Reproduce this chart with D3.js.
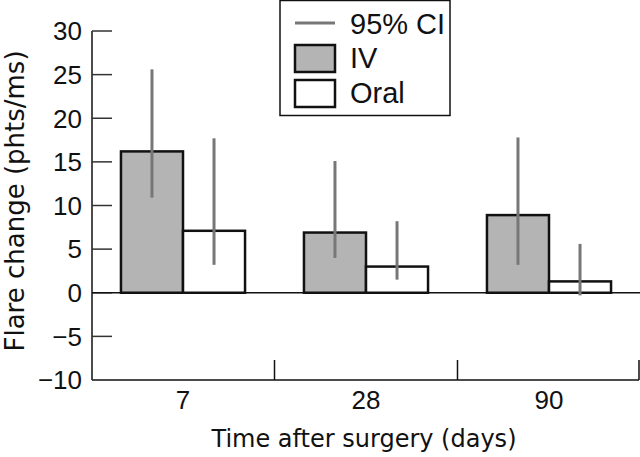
<!DOCTYPE html>
<html><head><meta charset="utf-8">
<script src="https://cdn.jsdelivr.net/npm/d3@7"></script>
<style>body{margin:0;background:#fff}svg{display:block}text{font-family:"Liberation Sans",Arial,sans-serif;fill:#111}.ttl{font-family:"DejaVu Sans",sans-serif}</style>
</head><body><svg id="c" width="640" height="457"></svg>
<script>
const categories = ["7", "28", "90"];
const ivValues = [16.2, 6.9, 8.9];
const ivLow = [10.9, 4.0, 3.2];
const ivHigh = [25.6, 15.1, 17.8];
const oralValues = [7.1, 3.0, 1.3];
const oralLow = [3.2, 1.5, -0.3];
const oralHigh = [17.7, 8.2, 5.6];
const yTicks = [-10, -5, 0, 5, 10, 15, 20, 25, 30];
const seriesNames = ["IV", "Oral"];
const legendLabels = ["95% CI", "IV", "Oral"];

const svg = d3.select("#c");
const y = d3.scaleLinear().domain([-10, 30]).range([380, 31]);
const x = d3.scaleBand().domain(categories).range([91.5, 640.5]);
// the pair of bars occupies the middle of each 183px step
const inner = d3.scaleBand().domain(seriesNames).range([x.step()*0.161, x.step()*(1-0.161)]);

const fills = {IV: "#b4b4b4", Oral: "#ffffff"};
const data = categories.map((c, i) => ({c, vals: [
  {s: "IV", v: ivValues[i], lo: ivLow[i], hi: ivHigh[i]},
  {s: "Oral", v: oralValues[i], lo: oralLow[i], hi: oralHigh[i]}]}));

// y axis
const yAxis = svg.append("g");
yAxis.append("line").attr("x1", 92).attr("x2", 92).attr("y1", y(30)).attr("y2", y(-10)).attr("stroke", "#111").attr("stroke-width", 1.5);
yAxis.selectAll("line.t").data(yTicks.filter(t => t !== -10)).join("line").attr("class", "t")
  .attr("x1", 92).attr("x2", 112).attr("y1", d => y(d)).attr("y2", d => y(d)).attr("stroke", "#333").attr("stroke-width", 1.5);
yAxis.selectAll("text").data(yTicks).join("text")
  .attr("x", 82).attr("y", d => y(d)).attr("dy", "0.36em").attr("text-anchor", "end")
  .attr("font-size", 26).text(d => d < 0 ? "\u2212" + Math.abs(d) : d);

// zero line
svg.append("line").attr("x1", 92).attr("x2", 640).attr("y1", y(0)).attr("y2", y(0)).attr("stroke", "#111").attr("stroke-width", 1.5);

// x axis
const xAxis = svg.append("g");
xAxis.append("line").attr("x1", 92).attr("x2", 639).attr("y1", y(-10)).attr("y2", y(-10)).attr("stroke", "#111").attr("stroke-width", 1.5);
xAxis.selectAll("line.t").data(categories.slice(1)).join("line").attr("class", "t")
  .attr("x1", d => x(d)).attr("x2", d => x(d)).attr("y1", y(-10)).attr("y2", y(-10) - 20).attr("stroke", "#111").attr("stroke-width", 1.5);
xAxis.append("line").attr("x1", 639).attr("x2", 639).attr("y1", y(-10)).attr("y2", y(-10) - 20).attr("stroke", "#111").attr("stroke-width", 1.5);
xAxis.selectAll("text").data(categories).join("text")
  .attr("x", d => x(d) + x.bandwidth() / 2).attr("y", 409).attr("text-anchor", "middle")
  .attr("font-size", 26).text(d => d);

// bars
const g = svg.selectAll("g.grp").data(data).join("g").attr("class", "grp")
  .attr("transform", d => `translate(${x(d.c)},0)`);
g.selectAll("rect").data(d => d.vals).join("rect")
  .attr("x", d => inner(d.s)).attr("width", inner.bandwidth())
  .attr("y", d => y(d.v)).attr("height", d => y(0) - y(d.v))
  .attr("fill", d => fills[d.s]).attr("stroke", "#111").attr("stroke-width", 2.5);
g.selectAll("line.ci").data(d => d.vals).join("line").attr("class", "ci")
  .attr("x1", d => inner(d.s) + inner.bandwidth() / 2).attr("x2", d => inner(d.s) + inner.bandwidth() / 2)
  .attr("y1", d => y(d.hi)).attr("y2", d => y(d.lo))
  .attr("stroke", "#777").attr("stroke-width", 3);

// axis titles
svg.append("text").attr("class", "ttl").attr("transform", "translate(24,201) rotate(-90)").attr("text-anchor", "middle")
  .attr("font-size", 26).text("Flare change (phts/ms)");
svg.append("text").attr("class", "ttl").attr("x", 364).attr("y", 447).attr("text-anchor", "middle")
  .attr("font-size", 24).text("Time after surgery (days)");

// legend
const lg = svg.append("g");
lg.append("rect").attr("x", 280).attr("y", 0.5).attr("width", 170).attr("height", 115).attr("fill", "#fff").attr("stroke", "#111").attr("stroke-width", 1.5);
lg.append("line").attr("x1", 295).attr("x2", 335).attr("y1", 23).attr("y2", 23).attr("stroke", "#777").attr("stroke-width", 3);
lg.append("rect").attr("x", 295).attr("y", 45).attr("width", 40).attr("height", 27).attr("fill", fills.IV).attr("stroke", "#111").attr("stroke-width", 2.5);
lg.append("rect").attr("x", 295).attr("y", 80).attr("width", 40).attr("height", 27).attr("fill", fills.Oral).attr("stroke", "#111").attr("stroke-width", 2.5);
lg.selectAll("text").data(legendLabels).join("text")
  .attr("x", 350).attr("y", (d, i) => [34, 68, 103][i]).attr("font-size", 29).text(d => d);
</script></body></html>
